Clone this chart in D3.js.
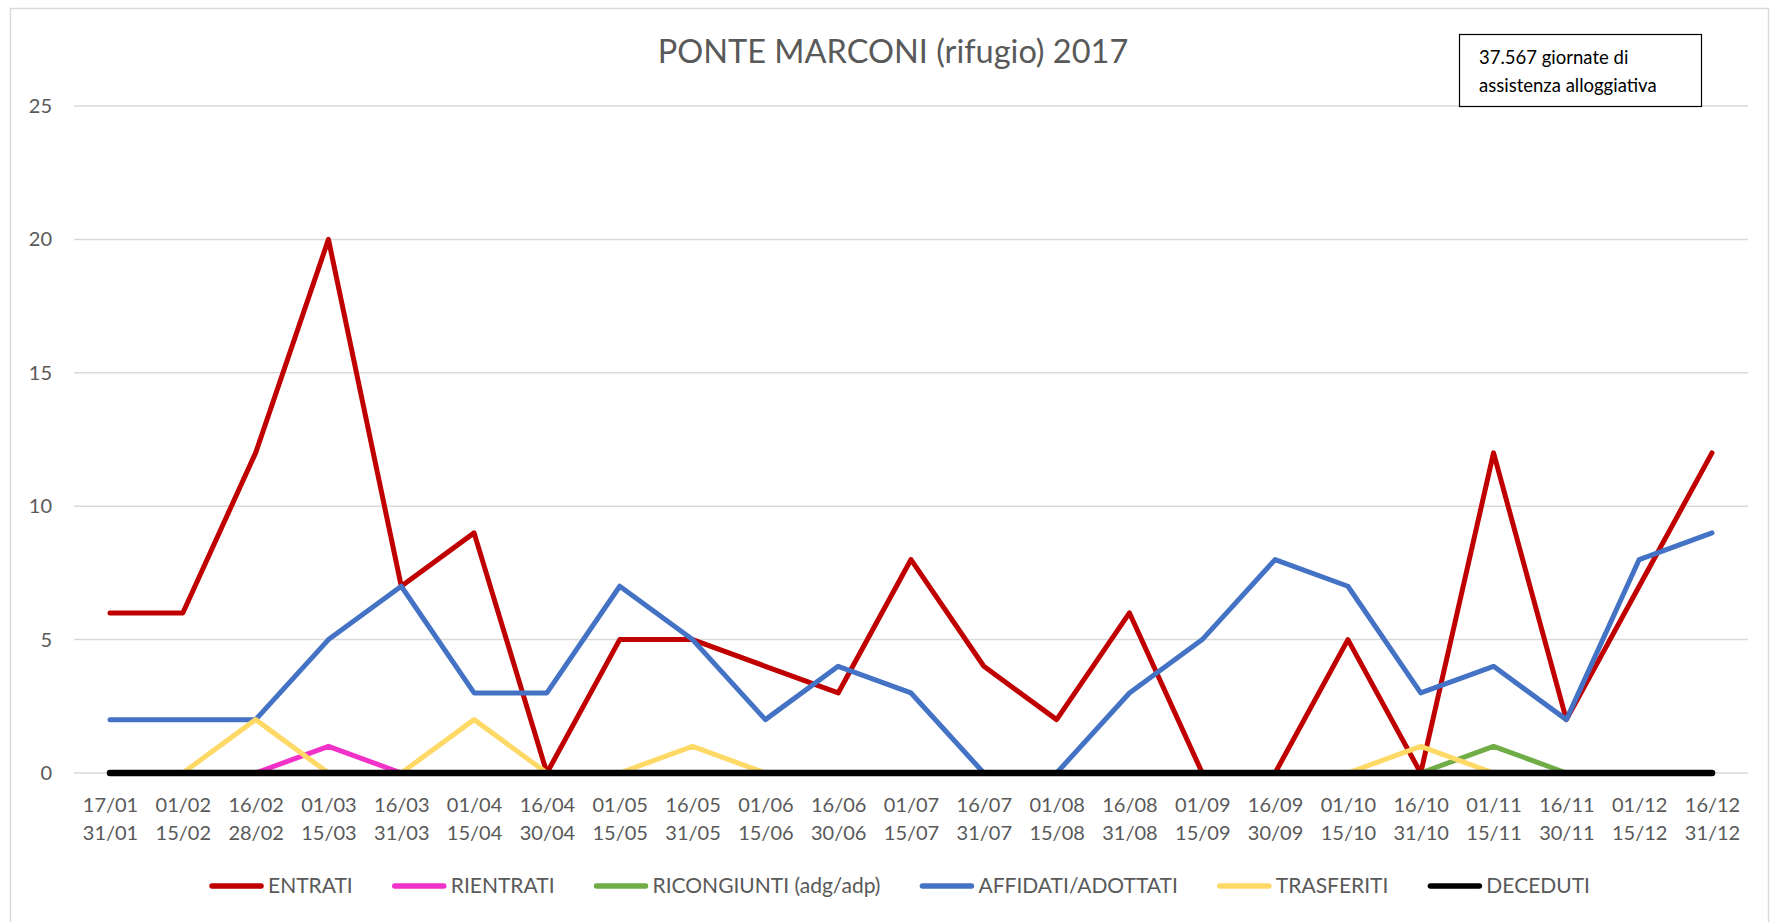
<!DOCTYPE html>
<html>
<head>
<meta charset="utf-8">
<script src="https://cdn.jsdelivr.net/npm/d3@7"></script>
<style>
  body { margin: 0; background: #fff; }
  text { font-family: Lato, "Open Sans", sans-serif; }
</style>
</head>
<body>
<div id="main"></div>
<script>
const Width = 1778, Height = 922;

// periods (two-line labels)
const periodStart = ["17/01","01/02","16/02","01/03","16/03","01/04","16/04","01/05","16/05","01/06","16/06","01/07",
                     "16/07","01/08","16/08","01/09","16/09","01/10","16/10","01/11","16/11","01/12","16/12"];
const periodEnd   = ["31/01","15/02","28/02","15/03","31/03","15/04","30/04","15/05","31/05","15/06","30/06","15/07",
                     "31/07","15/08","31/08","15/09","30/09","15/10","31/10","15/11","30/11","15/12","31/12"];

const entrati     = [6,6,12,20,7,9,0,5,5,4,3,8,4,2,6,0,0,5,0,12,2,7,12];
const rientrati   = [0,0,0,1,0,0,0,0,0,0,0,0,0,0,0,0,0,0,0,0,0,0,0];
const ricongiunti = [0,0,0,0,0,0,0,0,0,0,0,0,0,0,0,0,0,0,0,1,0,0,0];
const affidati    = [2,2,2,5,7,3,3,7,5,2,4,3,0,0,3,5,8,7,3,4,2,8,9];
const trasferiti  = [0,0,2,0,0,2,0,0,1,0,0,0,0,0,0,0,0,0,1,0,0,0,0];
const deceduti    = [0,0,0,0,0,0,0,0,0,0,0,0,0,0,0,0,0,0,0,0,0,0,0];

const seriesNames = ["ENTRATI","RIENTRATI","RICONGIUNTI (adg/adp)","AFFIDATI/ADOTTATI","TRASFERITI","DECEDUTI"];
const seriesColors = ["#C00000","#F032C8","#70AD47","#4472C4","#FFD966","#000000"];
const yTicks = [0,5,10,15,20,25];

const title = "PONTE MARCONI (rifugio) 2017";
const note = ["37.567 giornate di", "assistenza alloggiativa"];

const seriesData = [entrati, rientrati, ricongiunti, affidati, trasferiti, deceduti];

const svg = d3.select("#main")
    .append("svg")
    .attr("width", Width)
    .attr("height", Height);

// chart frame
svg.append("rect")
    .attr("x", 10.5).attr("y", 8.5)
    .attr("width", 1758).attr("height", 930)
    .attr("fill", "#fff").attr("stroke", "#D9D9D9").attr("stroke-width", 1.5);

const categories = periodStart.map((d, i) => i);
const plot = {left: 74, right: 1748, top: 106, bottom: 773};

let Xscale = d3.scalePoint().domain(categories).range([110, 1712]);
let Yscale = d3.scaleLinear().domain([0, 25]).range([plot.bottom, plot.top]);

// gridlines
svg.append("g").selectAll("line").data(yTicks).enter().append("line")
    .attr("x1", plot.left).attr("x2", plot.right)
    .attr("y1", d => Yscale(d)).attr("y2", d => Yscale(d))
    .attr("stroke", "#D9D9D9").attr("stroke-width", 1.5);

// y axis labels
const yAxis = svg.append("g")
    .attr("transform", `translate(${plot.left},0)`)
    .call(d3.axisLeft(Yscale).tickValues(yTicks).tickSize(0).tickPadding(22));
yAxis.select(".domain").remove();
yAxis.selectAll("text")
    .attr("font-size", 20).attr("fill", "#595959")
    .style("font-family", "Lato, sans-serif");

// x axis labels, two lines each
const xAxis = svg.append("g")
    .attr("transform", `translate(0,${plot.bottom})`)
    .call(d3.axisBottom(Xscale).tickSize(0).tickFormat(""));
xAxis.select(".domain").remove();
xAxis.selectAll(".tick text").remove();
xAxis.selectAll(".tick").append("text")
    .attr("text-anchor", "middle")
    .attr("font-size", 20).attr("fill", "#595959")
    .style("font-family", "Lato, sans-serif")
    .each(function (d) {
        const t = d3.select(this);
        t.append("tspan").attr("x", 0).attr("y", 39).text(periodStart[d]);
        t.append("tspan").attr("x", 0).attr("y", 67).text(periodEnd[d]);
    });

// lines
const line = d3.line().x((d, i) => Xscale(i)).y(d => Yscale(d));
svg.append("g").selectAll("path").data(seriesData).enter().append("path")
    .attr("d", d => line(d))
    .attr("fill", "none")
    .attr("stroke", (d, i) => seriesColors[i])
    .attr("stroke-width", (d, i) => i === 5 ? 6.5 : 5)
    .attr("stroke-linejoin", "round")
    .attr("stroke-linecap", "round");

// title
svg.append("text")
    .attr("x", 893).attr("y", 63)
    .attr("text-anchor", "middle")
    .attr("font-size", 32.5).attr("fill", "#595959")
    .text(title);

// note box
svg.append("rect")
    .attr("x", 1459.5).attr("y", 34.5)
    .attr("width", 242).attr("height", 72)
    .attr("fill", "#fff").attr("stroke", "#000").attr("stroke-width", 1.2);
svg.append("g").selectAll("text").data(note).enter().append("text")
    .attr("x", 1479).attr("y", (d, i) => 64 + i * 28)
    .attr("font-size", 18.5).attr("fill", "#000")
    .text(d => d);

// legend
const legend = svg.append("g").attr("transform", "translate(0,886)");
let lx = 210;
seriesNames.forEach((name, i) => {
    legend.append("line")
        .attr("x1", lx + 2).attr("x2", lx + 51)
        .attr("y1", 0).attr("y2", 0)
        .attr("stroke", seriesColors[i]).attr("stroke-width", 5.5)
        .attr("stroke-linecap", "round");
    const t = legend.append("text")
        .attr("x", lx + 58).attr("y", 7)
        .attr("font-size", 21).attr("fill", "#595959")
        .text(name);
    lx += 58 + t.node().getComputedTextLength() + 40;
});
</script>
</body>
</html>
